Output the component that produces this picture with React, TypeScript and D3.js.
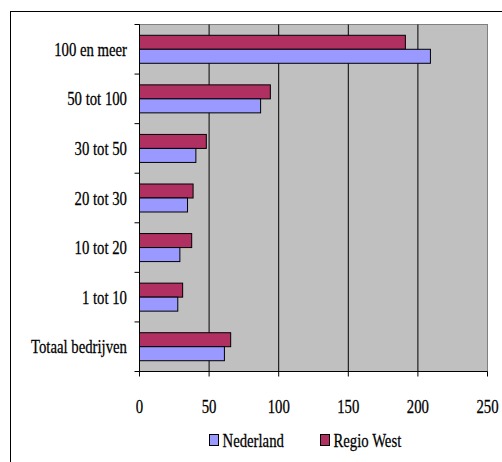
import React from "react";
import * as d3 from "d3";

const categories = ["100 en meer", "50 tot 100", "30 tot 50", "20 tot 30", "10 tot 20", "1 tot 10", "Totaal bedrijven"];
const seriesNames = ["Regio West", "Nederland"];
const regioWest = [191, 94, 48, 38.5, 37.5, 31, 65.5];
const nederland = [209, 87, 40.5, 34.5, 29, 27.5, 61];
const xTicks = [0, 50, 100, 150, 200, 250];
const legendOrder = ["Nederland", "Regio West"];

const colors: Record<string, string> = { "Regio West": "#B03062", Nederland: "#9999FF" };
const FONT = "Liberation Serif";
const SX = 0.82;

export default function App() {
  const W = 502, H = 462;
  const left = 139.5, right = 487.5, top = 24.5, bottom = 371.5;
  const x = d3.scaleLinear().domain([0, 250]).range([left, right]);
  const y = d3.scaleBand<string>().domain(categories).range([top, bottom]).padding(0);
  const inner = d3.scaleBand<string>().domain(seriesNames).range([0, y.bandwidth()]).paddingInner(0).paddingOuter(0.77);
  const values: Record<string, number[]> = { "Regio West": regioWest, Nederland: nederland };
  const boundaries = d3.range(categories.length + 1).map(i => top + i * y.step());

  const T = (props: { x: number; y: number; anchor: string; children: string }) => (
    <text
      transform={`translate(${props.x},${props.y + 6.5}) scale(${SX},1)`}
      textAnchor={props.anchor as any}
      style={{ fontFamily: FONT, fontSize: "18px" }}
      fill="#000"
      stroke="#000"
      strokeWidth={0.25}
    >
      {props.children}
    </text>
  );

  return (
    <svg width={W} height={H} style={{ position: "absolute", left: 0, top: 0, display: "block" }}>
      <rect x={0} y={0} width={W} height={H} fill="#fff" />
      <rect x={10.5} y={11.5} width={W} height={H} fill="#fff" stroke="#000" strokeWidth={1} />
      <rect x={left} y={top} width={right - left} height={bottom - top} fill="#C0C0C0" stroke="#808080" strokeWidth={1} />
      {xTicks.slice(1, -1).map(t => (
        <line key={"g" + t} x1={x(t)} x2={x(t)} y1={top} y2={bottom} stroke="#000" strokeWidth={1} />
      ))}
      {categories.map((c, i) =>
        seriesNames.map(s => (
          <rect
            key={c + s}
            x={x(0)}
            y={(y(c) as number) + (inner(s) as number)}
            width={x(values[s][i]) - x(0)}
            height={inner.bandwidth()}
            fill={colors[s]}
            stroke="#000"
            strokeWidth={1}
          />
        ))
      )}
      <line x1={left} x2={left} y1={top} y2={bottom} stroke="#000" strokeWidth={1} />
      <line x1={left} x2={right} y1={bottom} y2={bottom} stroke="#000" strokeWidth={1} />
      {boundaries.map((b, i) => (
        <line key={"yt" + i} x1={left - 5} x2={left} y1={b} y2={b} stroke="#000" strokeWidth={1} />
      ))}
      {xTicks.map(t => (
        <line key={"xt" + t} x1={x(t)} x2={x(t)} y1={bottom} y2={bottom + 5} stroke="#000" strokeWidth={1} />
      ))}
      {categories.map(c => (
        <T key={"l" + c} x={127} y={(y(c) as number) + y.bandwidth() / 2} anchor="end">{c}</T>
      ))}
      {xTicks.map(t => (
        <T key={"xl" + t} x={x(t)} y={406} anchor="middle">{String(t)}</T>
      ))}
      {legendOrder.map((s, i) => {
        const lx = i === 0 ? 209 : 320;
        return (
          <g key={"lg" + s}>
            <rect x={lx + 0.5} y={434.5} width={9} height={11} fill={colors[s]} stroke="#000" strokeWidth={1} />
            <T x={lx + 13.5} y={440} anchor="start">{s}</T>
          </g>
        );
      })}
    </svg>
  );
}
